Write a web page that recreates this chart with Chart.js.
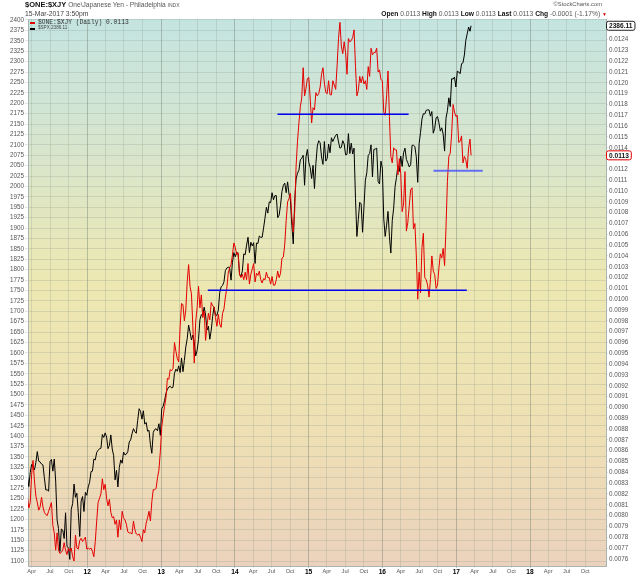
<!DOCTYPE html>
<html><head><meta charset="utf-8">
<script src="https://cdn.jsdelivr.net/npm/chart.js@4.4.0/dist/chart.umd.min.js"></script>
<style>
html,body{margin:0;padding:0;background:#fff;}
#wrap{position:relative;width:640px;height:576px;overflow:hidden;font-family:"Liberation Sans",Arial,sans-serif;}
#c{position:absolute;left:0;top:0;}
.t{position:absolute;white-space:nowrap;line-height:1;}
</style></head><body>
<div id="wrap">
<canvas id="c" width="640" height="576"></canvas>
<div class="t" style="left:25px;top:1px;font-size:7.5px;font-weight:bold;color:#111">$ONE:$XJY <span style="font-weight:normal;font-size:6.6px;color:#555">One\Japanese Yen - Philadelphia <span style="font-size:5px">INDX</span></span></div>
<div class="t" style="left:25px;top:10.5px;font-size:6.8px;color:#444">15-Mar-2017 3:50pm</div>
<div class="t" style="right:38px;top:2px;font-size:5.8px;color:#555">©StockCharts.com</div>
<div class="t" style="right:33px;top:10.5px;font-size:6.7px;color:#555"><b style="color:#111">Open</b> 0.0113 <b style="color:#111">High</b> 0.0113 <b style="color:#111">Low</b> 0.0113 <b style="color:#111">Last</b> 0.0113 <b style="color:#111">Chg</b> -0.0001 (-1.17%) <span style="color:#d00;font-size:5px">▼</span></div>
<div class="t" style="left:30px;top:22px;width:5px;height:2px;background:#e00000"></div>
<div class="t" style="left:38px;top:19.5px;font-family:'Liberation Mono','DejaVu Sans Mono',monospace;font-size:6.3px;color:#333">$ONE:$XJY (Daily) 0.0113</div>
<div class="t" style="left:30px;top:28px;width:5px;height:1.5px;background:#000"></div>
<div class="t" style="left:38px;top:26px;font-size:4.6px;color:#444">$SPX 2386.11</div>
</div>
<script>
// ---- data (weekly readings, Friday dates; last point is 15-Mar-2017) ----
const FIRST_FRIDAY = '2011-03-11';
const LAST_DATE = '2017-03-15';
const X_MIN_DATE = '2011-03-14';
const X_MAX_DATE = '2019-01-12';

const spx2011 = [1304,1279,1313,1332,1328,1319,1337,1363,1340,1338,1333,1331,1300,1271,1271,1268,1339,1344,1316,1345,1292,1199,1178,1123,1177,1174,1154,1216,1136,1131,1104,1224,1238,1285,1253,1263,1216,1159,1244,1255,1219,1265,1258];
const spx2012 = [1278,1289,1315,1316,1345,1343,1361,1366,1370,1371,1404,1397,1408,1398,1370,1378,1403,1369,1353,1295,1318,1278,1325,1343,1335,1362,1355,1357,1363,1386,1391,1406,1418,1411,1407,1438,1466,1460,1441,1461,1429,1433,1412,1414,1380,1359,1409,1416,1418,1413,1430,1402];
const spx2013 = [1466,1472,1486,1503,1513,1518,1520,1516,1518,1551,1561,1556,1569,1553,1588,1555,1582,1614,1634,1667,1650,1631,1643,1626,1593,1606,1632,1680,1692,1691,1710,1691,1655,1664,1633,1655,1688,1710,1692,1690,1703,1745,1759,1762,1771,1798,1804,1806,1805,1775,1818,1841];
const spx2014 = [1831,1842,1839,1790,1783,1797,1838,1836,1859,1878,1841,1866,1857,1865,1815,1864,1863,1881,1878,1878,1900,1924,1950,1936,1963,1961,1985,1968,1978,1978,1925,1931,1955,1988,2003,2008,1985,2011,1982,1968,1906,1862,1965,2018,2032,2039,2064,2068,2075,2003,2071,2089];
const spx2015 = [2058,2045,2019,2051,1995,2055,2097,2110,2105,2071,2053,2108,2061,2067,2102,2081,2117,2108,2116,2123,2126,2107,2092,2094,2110,2102,2076,2077,2127,2079,2104,2078,2092,1971,1880,1921,1962,1958,1890,1951,2015,2033,2075,2079,2100,2023,2089,2090,2092,2012,2006,2061];
const spx2016 = [2044,1922,1880,1907,1940,1880,1840,1918,1948,2000,2022,2050,2036,2073,2048,2081,2092,2065,2057,2047,2052,2099,2099,2096,2071,2010,2103,2130,2162,2175,2174,2183,2184,2184,2169,2180,2128,2139,2165,2168,2153,2133,2141,2126,2085,2164,2182,2213,2192,2259,2258,2263,2239];
const spx2017 = [2277,2275,2271,2295,2297,2316,2351,2367,2383,2373,2386.11];

const xjy2011 = [0.00818,0.00807,0.00812,0.00838,0.00851,0.00832,0.00818,0.00812,0.00805,0.00808,0.00817,0.00808,0.00803,0.00801,0.00800,0.00804,0.00808,0.00812,0.00791,0.00784,0.00768,0.00784,0.00768,0.00765,0.00766,0.00768,0.00775,0.00768,0.00764,0.00770,0.00767,0.00770,0.00762,0.00758,0.00782,0.00770,0.00769,0.00777,0.00779,0.00776,0.00778,0.00780,0.00769];
const xjy2012 = [0.00770,0.00769,0.00770,0.00767,0.00762,0.00776,0.00795,0.00812,0.00816,0.00820,0.00834,0.00824,0.00829,0.00816,0.00809,0.00815,0.00803,0.00798,0.00799,0.00792,0.00796,0.00780,0.00796,0.00787,0.00804,0.00798,0.00796,0.00792,0.00785,0.00784,0.00784,0.00783,0.00795,0.00787,0.00783,0.00782,0.00783,0.00780,0.00776,0.00787,0.00784,0.00793,0.00798,0.00804,0.00795,0.00813,0.00824,0.00824,0.00825,0.00835,0.00842,0.00859];
const xjy2013 = [0.00882,0.00892,0.00901,0.00909,0.00927,0.00926,0.00935,0.00934,0.00936,0.00960,0.00952,0.00945,0.00942,0.00975,0.00996,0.00995,0.00980,0.00990,0.01016,0.01032,0.01012,0.01005,0.00975,0.00941,0.00979,0.00992,0.01012,0.00992,0.01004,0.00983,0.00989,0.00962,0.00975,0.00987,0.00981,0.00997,0.00994,0.00993,0.00983,0.00975,0.00986,0.00977,0.00974,0.00987,0.00991,0.01002,0.01010,0.01024,0.01029,0.01032,0.01041,0.01052];
const xjy2014 = [0.01048,0.01041,0.01043,0.01023,0.01020,0.01023,0.01018,0.01025,0.01018,0.01033,0.01014,0.01023,0.01028,0.01033,0.01016,0.01024,0.01022,0.01026,0.01018,0.01015,0.01019,0.01018,0.01025,0.01020,0.01020,0.01014,0.01021,0.01013,0.01013,0.01018,0.01026,0.01020,0.01024,0.01038,0.01039,0.01051,0.01073,0.01090,0.01093,0.01098,0.01076,0.01062,0.01081,0.01123,0.01146,0.01163,0.01178,0.01186,0.01214,0.01188,0.01195,0.01204];
const xjy2015 = [0.01205,0.01185,0.01163,0.01177,0.01175,0.01191,0.01188,0.01190,0.01196,0.01208,0.01214,0.01200,0.01191,0.01190,0.01202,0.01189,0.01189,0.01202,0.01198,0.01194,0.01216,0.01241,0.01256,0.01234,0.01227,0.01238,0.01228,0.01208,0.01241,0.01238,0.01239,0.01242,0.01249,0.01215,0.01188,0.01193,0.01206,0.01200,0.01206,0.01199,0.01202,0.01194,0.01215,0.01206,0.01232,0.01226,0.01228,0.01228,0.01232,0.01210,0.01212,0.01203];
const xjy2016 = [0.01202,0.01173,0.01170,0.01188,0.01211,0.01169,0.01132,0.01126,0.01140,0.01138,0.01138,0.01115,0.01130,0.01116,0.01081,0.01088,0.01118,0.01063,0.01071,0.01086,0.01101,0.01103,0.01065,0.01070,0.01041,0.01000,0.01025,0.01006,0.01048,0.01061,0.01020,0.01018,0.01013,0.01002,0.01018,0.01040,0.01026,0.01023,0.01010,0.01013,0.01029,0.01042,0.01038,0.01047,0.01031,0.01066,0.01109,0.01132,0.01135,0.01153,0.01180,0.01173,0.01169];
const xjy2017 = [0.01170,0.01145,0.01146,0.01151,0.01126,0.01132,0.01129,0.01121,0.01140,0.01148,0.01133];

// horizontal support / resistance lines (right-axis units)
const levelStart = ['2014-07-31','2013-08-20','2016-09-10'];
const levelEnd   = ['2016-05-10','2017-02-22','2017-05-12'];
const levelValue = [0.011710, 0.010082, 0.011188];

// tick definitions
const quarterNames = ['', 'Apr', 'Jul', 'Oct'];
const leftTickMin = 1100, leftTickMax = 2400, leftTickStep = 25;
const rightTickMin = 76, rightTickMax = 124; // in units of 0.0001
const leftRange = [1088.1, 2402.4];
const rightRange = [0.007534, 0.0125905];

// ---- build ----
const spx = [].concat(spx2011, spx2012, spx2013, spx2014, spx2015, spx2016, spx2017);
const xjy = [].concat(xjy2011, xjy2012, xjy2013, xjy2014, xjy2015, xjy2016, xjy2017);
const DAY = 86400000;
const t0 = Date.parse(FIRST_FRIDAY);
const dates = spx.map((_, i) => i === spx.length - 1 ? Date.parse(LAST_DATE) : t0 + i * 7 * DAY);
const xMin = Date.parse(X_MIN_DATE), xMax = Date.parse(X_MAX_DATE);

const quarterTicks = [];
for (let y = 2011; y <= 2018; y++) {
  for (let q = 0; q < 4; q++) {
    const v = Date.UTC(y, q * 3, 1);
    if (v >= xMin && v <= xMax) quarterTicks.push(v);
  }
}
const isYearTick = v => v !== undefined && new Date(v).getUTCMonth() === 0;
const tickVal = ctx => (ctx && ctx.tick) ? ctx.tick.value : undefined;

const gridCol = 'rgba(135,145,135,0.24)';
const yearGridCol = 'rgba(110,125,110,0.42)';
const FONT = '"Liberation Sans", Arial, sans-serif';

const bgPlugin = {
  id: 'bg',
  beforeDraw(chart) {
    const { ctx, chartArea: a } = chart;
    const g = ctx.createLinearGradient(0, a.top, 0, a.bottom);
    g.addColorStop(0, '#c4e4e1');
    g.addColorStop(0.22, '#d6e5cf');
    g.addColorStop(0.48, '#ede8b2');
    g.addColorStop(0.75, '#eee0b4');
    g.addColorStop(1, '#ebd2bd');
    ctx.save();
    ctx.fillStyle = g;
    ctx.fillRect(a.left, a.top, a.right - a.left, a.bottom - a.top);
    ctx.restore();
  }
};

function drawBox(ctx, x, y, text, border) {
  ctx.save();
  ctx.font = 'bold 6.6px ' + FONT;
  const w = ctx.measureText(text).width + 5;
  ctx.fillStyle = '#fff';
  ctx.strokeStyle = border;
  ctx.lineWidth = 1;
  ctx.beginPath();
  if (ctx.roundRect) ctx.roundRect(x + 0.5, y - 4.5, w, 9, 2); else ctx.rect(x + 0.5, y - 4.5, w, 9);
  ctx.fill();
  ctx.stroke();
  ctx.fillStyle = '#111';
  ctx.textBaseline = 'middle';
  ctx.fillText(text, x + 3, y + 0.5);
  ctx.restore();
}

const lastPlugin = {
  id: 'lastValues',
  afterDraw(chart) {
    const ctx = chart.ctx;
    const n = spx.length - 1;
    const x = chart.chartArea.right;
    drawBox(ctx, x, chart.scales.y.getPixelForValue(spx[n]), spx[n].toFixed(2), '#222');
    drawBox(ctx, x, chart.scales.y2.getPixelForValue(xjy[n]), xjy[n].toFixed(4), '#e00000');
  }
};

const levelSets = levelValue.map((v, i) => ({
  label: 'level' + i,
  data: [{ x: Date.parse(levelStart[i]), y: v }, { x: Date.parse(levelEnd[i]), y: v }],
  yAxisID: 'y2',
  borderColor: i === 2 ? 'rgba(70,80,255,0.8)' : '#0000ee',
  borderWidth: i === 2 ? 2 : 1.5,
  pointRadius: 0,
  order: 0
}));

new Chart(document.getElementById('c'), {
  type: 'line',
  data: {
    datasets: [
      { label: '$ONE:$XJY', data: dates.map((d, i) => ({ x: d, y: xjy[i] })), yAxisID: 'y2',
        borderColor: '#e40000', borderWidth: 1, pointRadius: 0, order: 1 },
      { label: '$SPX', data: dates.map((d, i) => ({ x: d, y: spx[i] })), yAxisID: 'y',
        borderColor: '#000', borderWidth: 1, pointRadius: 0, order: 2 },
      ...levelSets
    ]
  },
  options: {
    responsive: false,
    animation: false,
    layout: { padding: { top: 19, left: 0, right: 0, bottom: 0 } },
    plugins: { legend: { display: false }, tooltip: { enabled: false } },
    scales: {
      x: {
        type: 'linear', position: 'bottom', min: xMin, max: xMax,
        afterBuildTicks(s) { s.ticks = quarterTicks.map(v => ({ value: v })); },
        afterFit(s) { s.height = 10; },
        ticks: {
          autoSkip: false, maxRotation: 0, minRotation: 0, padding: 0,
          callback(v) {
            const d = new Date(v);
            return d.getUTCMonth() === 0 ? String(d.getUTCFullYear()).slice(2) : quarterNames[d.getUTCMonth() / 3];
          },
          font: ctx => isYearTick(tickVal(ctx))
            ? { family: FONT, size: 6.6, weight: 'bold' }
            : { family: FONT, size: 5.6 },
          color: ctx => isYearTick(tickVal(ctx)) ? '#000' : '#555'
        },
        grid: {
          color: ctx => isYearTick(tickVal(ctx)) ? yearGridCol : gridCol,
          tickLength: 2, lineWidth: 1
        },
        border: { color: '#a9b4b4' }
      },
      y: {
        position: 'left', min: leftRange[0], max: leftRange[1],
        afterBuildTicks(s) {
          const t = [];
          for (let v = leftTickMin; v <= leftTickMax; v += leftTickStep) t.push({ value: v });
          s.ticks = t;
        },
        afterFit(s) { s.width = 28; },
        ticks: {
          autoSkip: false, padding: 1,
          font: { family: FONT, size: 6.3 },
          color: '#555',
          callback: v => String(v)
        },
        grid: { color: gridCol, tickLength: 3 },
        border: { color: '#a9b4b4' }
      },
      y2: {
        position: 'right', min: rightRange[0], max: rightRange[1],
        afterBuildTicks(s) {
          const t = [];
          for (let i = rightTickMin; i <= rightTickMax; i++) t.push({ value: i / 10000 });
          s.ticks = t;
        },
        afterFit(s) { s.width = 34; },
        ticks: {
          autoSkip: false, padding: 1,
          font: { family: FONT, size: 6.3 },
          color: '#555',
          callback: v => Number(v).toFixed(4)
        },
        grid: { drawOnChartArea: false, color: gridCol, tickLength: 2 },
        border: { color: '#a9b4b4' }
      }
    }
  },
  plugins: [bgPlugin, lastPlugin]
});
</script>
</body></html>
